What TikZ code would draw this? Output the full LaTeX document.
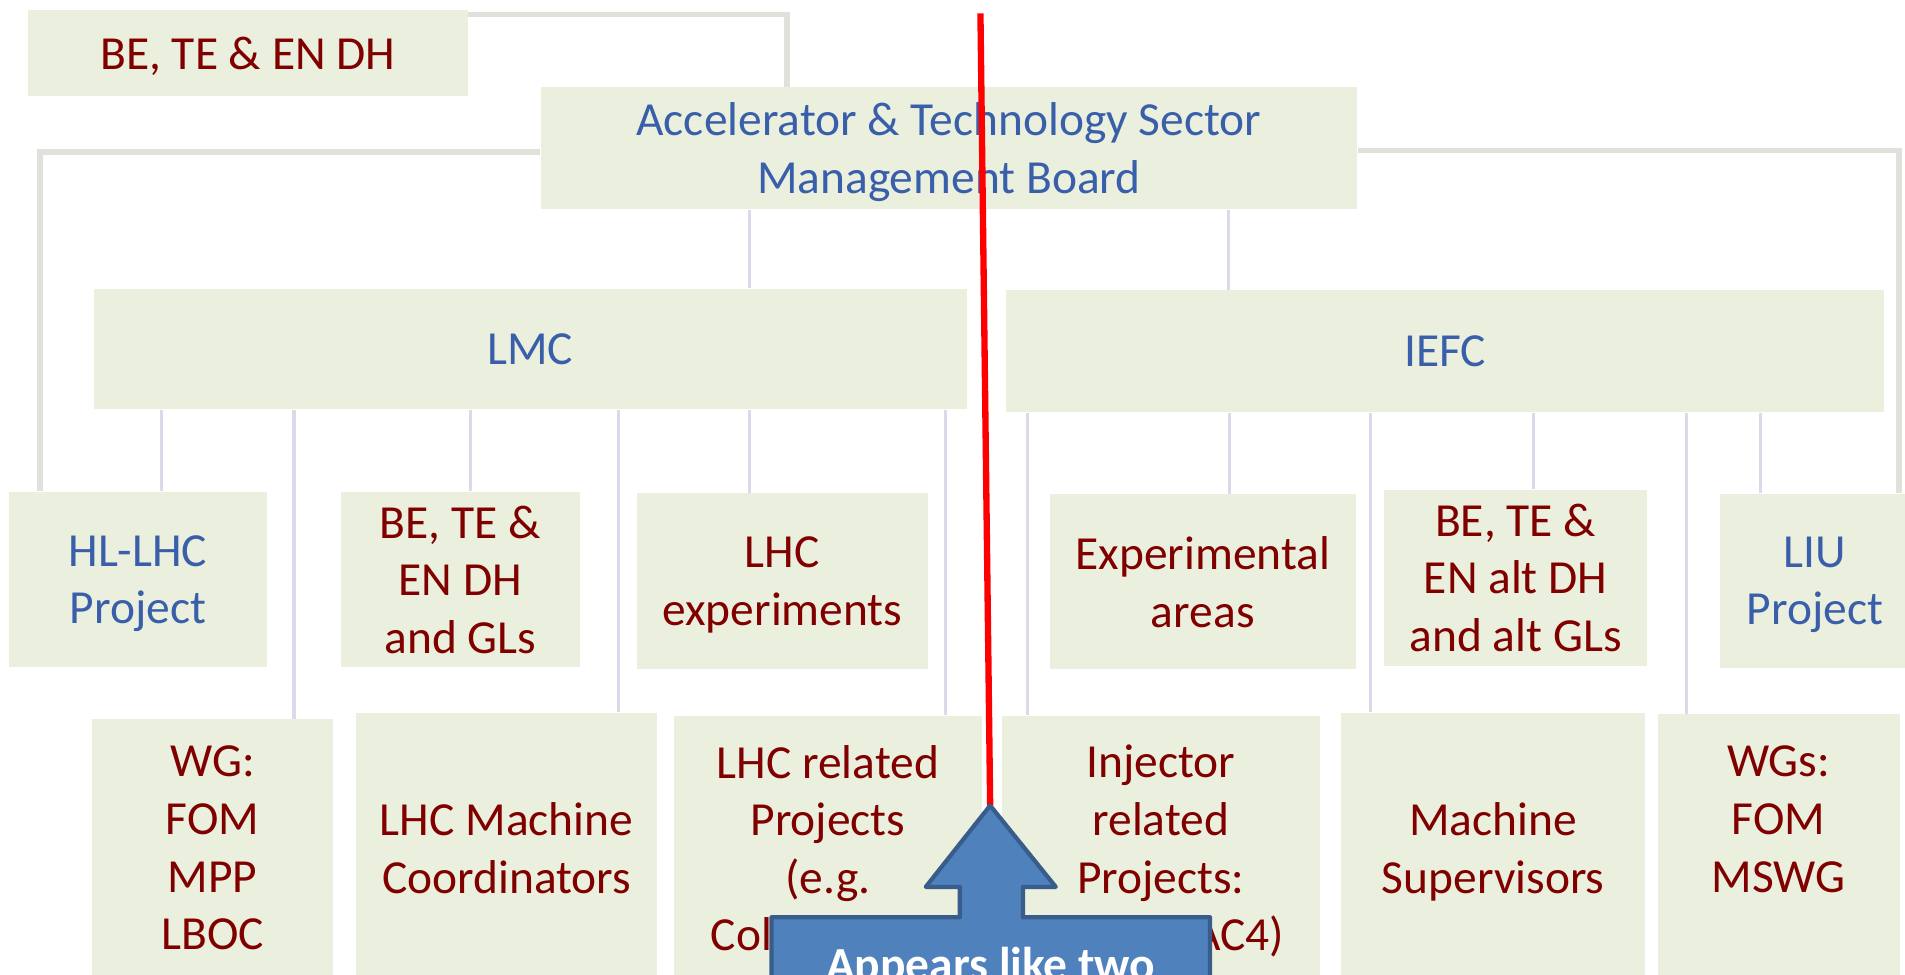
\documentclass[tikz,border=0pt]{standalone}
\usepackage{fontspec}
\setmainfont{Carlito}
\usetikzlibrary{positioning}

\definecolor{boxfill}{RGB}{235,240,222}
\definecolor{darkred}{RGB}{128,0,0}
\definecolor{orgblue}{RGB}{58,95,170}
\definecolor{linklav}{RGB}{221,217,234}
\definecolor{supgrey}{RGB}{226,224,219}
\definecolor{notefill}{RGB}{79,129,189}
\definecolor{noteedge}{RGB}{56,93,138}
\def\pxu{0.01215cm}

\begin{document}
\begin{tikzpicture}[x=\pxu,y=-\pxu,
box/.style={fill=boxfill,inner sep=0pt,align=center,text=darkred,text depth=0pt,
    font=\fontsize{13.5}{16.4}\selectfont},
boxsize/.style 2 args={minimum width=#1*\pxu,minimum height=#2*\pxu},
unit/.style={box,text=orgblue},
link/.style={draw=linklav,line width=0.9pt},
supline/.style={draw=supgrey,line width=1.6pt},
redline/.style={draw=red,line width=1.8pt},
callout/.style={fill=notefill,draw=noteedge,line width=1.2pt,line join=round},
notetext/.style={text=white,font=\fontsize{13.5}{16.4}\selectfont\bfseries}
    ]
\useasboundingbox (0,0) rectangle (1568,802);
\clip (0,0) rectangle (1568,802);

% top
\node[box,boxsize={362}{71}] (dh) at (204,43.5) {BE, TE \& EN DH};
\node[unit,boxsize={672}{100}] (ats) at (781,122) {Accelerator \& Technology Sector\\Management Board};
\node[unit,boxsize={719}{99}] (lmc) at (436.5,287.5) {LMC};
\node[unit,boxsize={723}{100}] (iefc) at (1189.5,289) {IEFC};

% middle row
\node[unit,boxsize={213}{144}] (hl) at (113.5,477) {HL-LHC\\Project};
\node[box,boxsize={196}{144}] (gls) at (379,477) {BE, TE \&\\EN DH\\and GLs};
\node[box,boxsize={240}{145}] (exps) at (644,478.5) {LHC\\experiments};
\node[box,boxsize={252}{144}] (areas) at (990,479) {Experimental\\areas};
\node[box,boxsize={216}{145}] (altgls) at (1247.5,475.5) {BE, TE \&\\EN alt DH\\and alt GLs};
\node[unit,boxsize={156}{143}] (liu) at (1494,478) {LIU\\Project};

% bottom row
\node[box,boxsize={198}{212}] (wg) at (175,698) {WG:\\FOM\\MPP\\LBOC};
\node[box,boxsize={248}{222}] (lhcmc) at (417,698) {LHC Machine\\Coordinators};
\node[box,boxsize={254}{218}] (lhcrel) at (681.5,698) {LHC related\\Projects\\(e.g.\\Col\hspace*{3.64em}};
\node[box,boxsize={262}{218}] (inj) at (955.5,698) {Injector\\related\\Projects:\\\hspace*{3.28em}AC4)};
\node[box,boxsize={250}{222}] (machsup) at (1229,698) {Machine\\Supervisors};
\node[box,boxsize={199}{220}] (wgs) at (1464,698) {WGs:\\FOM\\MSWG\\~};

\coordinate (dhbend) at (648,12);
\coordinate (lbend) at (33,125);
\coordinate (rbend) at (1563,124);
\draw[supline] (dh.east |- dhbend) -- (dhbend) -- (dhbend |- ats.north);
\draw[supline] (ats.west |- lbend) -- (lbend) -- (lbend |- hl.north);
\draw[supline] (ats.east |- rbend) -- (rbend) -- (rbend |- liu.north);

\path[link]
     (ats.south -| 617,0) edge (lmc.north -| 617,0)
     (ats.south -| 1011,0) edge (iefc.north -| 1011,0)
     (lmc.south -| 133,0) edge (hl.north -| 133,0)
     (lmc.south -| 242,0) edge (wg.north -| 242,0)
     (lmc.south -| 387,0) edge (gls.north -| 387,0)
     (lmc.south -| 509,0) edge (lhcmc.north -| 509,0)
     (lmc.south -| 617,0) edge (exps.north -| 617,0)
     (lmc.south -| 778,0) edge (lhcrel.north -| 778,0)
     (iefc.south -| 846,0) edge (inj.north -| 846,0)
     (iefc.south -| 1012,0) edge (areas.north -| 1012,0)
     (iefc.south -| 1128,0) edge (machsup.north -| 1128,0)
     (iefc.south -| 1262,0) edge (altgls.north -| 1262,0)
     (iefc.south -| 1388,0) edge (wgs.north -| 1388,0)
     (iefc.south -| 1449,0) edge (liu.north -| 1449,0)
    ;

% overlay
\coordinate (redtop) at (807,11);
\coordinate (tip) at (815,663);
\draw[redline] (redtop) -- (tip);
\draw[callout] (tip) -- (869,730) -- (842,730) -- (842,755) -- (996,755)
    -- (996,815) -- (635,815) -- (635,755) -- (790,755) -- (790,730)
    -- (762,730) -- cycle;
\node[notetext,anchor=base] (note) at (815.5,807) {Appears like two};
\end{tikzpicture}
\end{document}
